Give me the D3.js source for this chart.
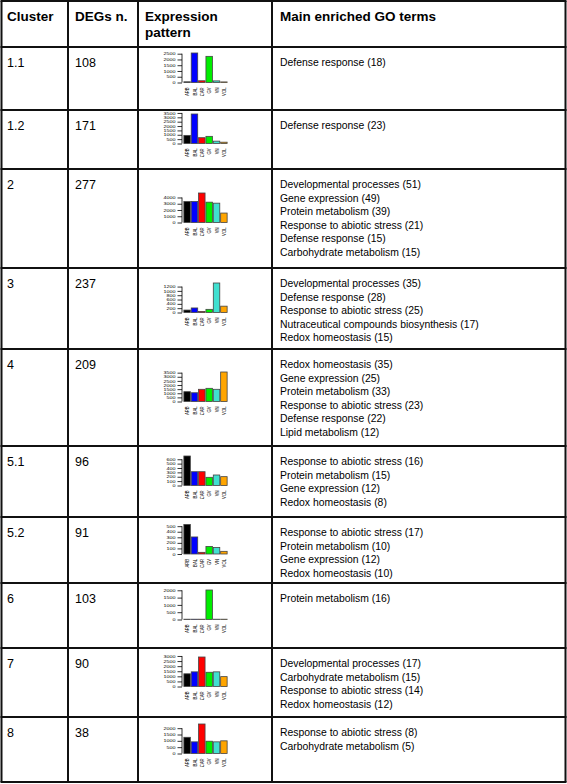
<!DOCTYPE html>
<html><head><meta charset="utf-8">
<script src="https://cdn.jsdelivr.net/npm/d3@7"></script>
<style>
body{margin:0;background:#fff}
svg{display:block}
text{font-family:"Liberation Sans",Arial,Helvetica,sans-serif;fill:#000}
</style>
</head><body>
<svg id="c" width="567" height="784"></svg>
<script>
// ---------- DATA ----------
const headers = ["Cluster", "DEGs n.", "Expression|pattern", "Main enriched GO terms"];
const clusters = ["1.1", "1.2", "2", "3", "4", "5.1", "5.2", "6", "7", "8"];
const degs = [108, 171, 277, 237, 209, 96, 91, 103, 90, 38];
const samples = ["ARB", "BAL", "CAR", "GV", "VN", "VOL"];
const sampleColors = ["#000000", "#0000ff", "#ff0000", "#00ee00", "#40e0d0", "#ffa500"];

const expr_1_1 = [60, 2560, 150, 2270, 140, 50];
const expr_1_2 = [930, 3380, 665, 820, 270, 150];
const expr_2   = [3350, 3350, 4715, 3250, 3090, 1510];
const expr_3   = [113, 210, 50, 146, 1365, 293];
const expr_4   = [1190, 1060, 1480, 1600, 1480, 3580];
const expr_5_1 = [674, 315, 315, 187, 240, 202];
const expr_5_2 = [530, 306, 30, 136, 118, 48];
const expr_6   = [10, 10, 10, 2020, 10, 10];
const expr_7   = [1250, 1440, 2900, 1400, 1440, 970];
const expr_8   = [1280, 920, 2330, 970, 920, 1000];

const ticks_1_1 = [0, 500, 1000, 1500, 2000, 2500];
const ticks_1_2 = [0, 500, 1000, 1500, 2000, 2500, 3000, 3500];
const ticks_2   = [0, 1000, 2000, 3000, 4000];
const ticks_3   = [0, 200, 400, 600, 800, 1000, 1200];
const ticks_4   = [0, 500, 1000, 1500, 2000, 2500, 3000, 3500];
const ticks_5_1 = [0, 100, 200, 300, 400, 500, 600];
const ticks_5_2 = [0, 100, 200, 300, 400, 500];
const ticks_6   = [0, 500, 1000, 1500, 2000];
const ticks_7   = [0, 500, 1000, 1500, 2000, 2500, 3000];
const ticks_8   = [0, 500, 1000, 1500, 2000];

const go_1_1 = ["Defense response (18)"];
const go_1_2 = ["Defense response (23)"];
const go_2 = ["Developmental processes (51)", "Gene expression (49)", "Protein metabolism (39)",
  "Response to abiotic stress (21)", "Defense response (15)", "Carbohydrate metabolism (15)"];
const go_3 = ["Developmental processes (35)", "Defense response (28)", "Response to abiotic stress (25)",
  "Nutraceutical compounds biosynthesis (17)", "Redox homeostasis (15)"];
const go_4 = ["Redox homeostasis (35)", "Gene expression (25)", "Protein metabolism (33)",
  "Response to abiotic stress (23)", "Defense response (22)", "Lipid metabolism (12)"];
const go_5_1 = ["Response to abiotic stress (16)", "Protein metabolism (15)", "Gene expression (12)", "Redox homeostasis (8)"];
const go_5_2 = ["Response to abiotic stress (17)", "Protein metabolism (10)", "Gene expression (12)", "Redox homeostasis (10)"];
const go_6 = ["Protein metabolism (16)"];
const go_7 = ["Developmental processes (17)", "Carbohydrate metabolism (15)", "Response to abiotic stress (14)", "Redox homeostasis (12)"];
const go_8 = ["Response to abiotic stress (8)", "Carbohydrate metabolism (5)"];

const expression = [expr_1_1, expr_1_2, expr_2, expr_3, expr_4, expr_5_1, expr_5_2, expr_6, expr_7, expr_8];
const tickSets = [ticks_1_1, ticks_1_2, ticks_2, ticks_3, ticks_4, ticks_5_1, ticks_5_2, ticks_6, ticks_7, ticks_8];
const goTerms = [go_1_1, go_1_2, go_2, go_3, go_4, go_5_1, go_5_2, go_6, go_7, go_8];

// ---------- LAYOUT ----------
const rowEdges = [1, 47, 110, 169, 268, 349, 446, 517, 583, 648, 717, 782];
const colEdges = [1.5, 68, 138, 272, 565.5];
const textX = [7, 75, 145, 280];
const svg = d3.select("#c");
const font = '"Liberation Sans",Arial,Helvetica,sans-serif';

// header
const hdr = svg.append("g").attr("font-weight", "bold").attr("font-size", 13.5);
headers.forEach((h, i) => {
  h.split("|").forEach((line, j) => {
    hdr.append("text").attr("x", textX[i]).attr("y", 21 + j * 16).text(line);
  });
});

// rows
clusters.forEach((c, i) => {
  const top = rowEdges[i + 1], bot = rowEdges[i + 2];
  const g = svg.append("g");
  g.append("text").attr("x", textX[0]).attr("y", top + 19.5).attr("font-size", 12.5).text(c);
  g.append("text").attr("x", textX[1]).attr("y", top + 19.5).attr("font-size", 12.5).text(degs[i]);
  goTerms[i].forEach((t, j) => {
    g.append("text").attr("x", textX[3]).attr("y", top + 19 + j * 13.6).attr("font-size", 10.4).text(t);
  });

  // mini bar chart
  const vals = expression[i];
  const ticks = tickSets[i];
  const base = (top + bot) / 2 + 4;
  const y = d3.scaleLinear().domain([0, d3.max(vals)]).range([base, base - 29.5]);
  const x = d3.scaleBand().domain(samples).range([183.5, 227.5]).paddingInner(0.12).paddingOuter(0.05);
  const ch = svg.append("g");
  ch.selectAll("rect").data(vals).join("rect")
    .attr("x", (d, k) => x(samples[k]))
    .attr("y", d => Math.min(y(d), base - 0.3))
    .attr("width", x.bandwidth())
    .attr("height", d => Math.max(0.3, base - y(d)))
    .attr("fill", (d, k) => sampleColors[k])
    .attr("stroke", "#444").attr("stroke-width", 0.8);

  const ax = ch.append("g").attr("transform", "translate(182,0)")
    .call(d3.axisLeft(y).tickValues(ticks).tickFormat(d3.format("d")).tickSize(4.5).tickPadding(2).tickSizeOuter(0));
  ax.select(".domain").remove();
  ax.append("line").attr("x1", 0).attr("x2", 0).attr("y1", y(0)).attr("y2", y(ticks[ticks.length - 1]))
    .attr("stroke", "#000").attr("stroke-width", 0.8);
  ax.selectAll(".tick line").attr("stroke", "#000").attr("stroke-width", 0.8);
  ax.selectAll(".tick text").attr("font-size", 5.4).attr("font-family", font).attr("fill", "#222")
    .attr("transform", "scale(1,0.65)");

  samples.forEach((s, k) => {
    ch.append("text")
      .attr("transform", `translate(${x(s) + x.bandwidth() / 2},${base + 5}) scale(1,0.7) rotate(-90)`)
      .attr("text-anchor", "end").attr("dy", "0.35em")
      .attr("font-size", 6).attr("fill", "#222").text(s);
  });
});

// grid lines
const grid = svg.append("g").attr("stroke", "#111").attr("stroke-width", 2);
rowEdges.forEach(yv => grid.append("line").attr("x1", colEdges[0] - 1).attr("x2", colEdges[4] + 1).attr("y1", yv).attr("y2", yv));
colEdges.forEach(xv => grid.append("line").attr("x1", xv).attr("x2", xv).attr("y1", rowEdges[0]).attr("y2", rowEdges[rowEdges.length - 1]));
</script>
</body></html>
